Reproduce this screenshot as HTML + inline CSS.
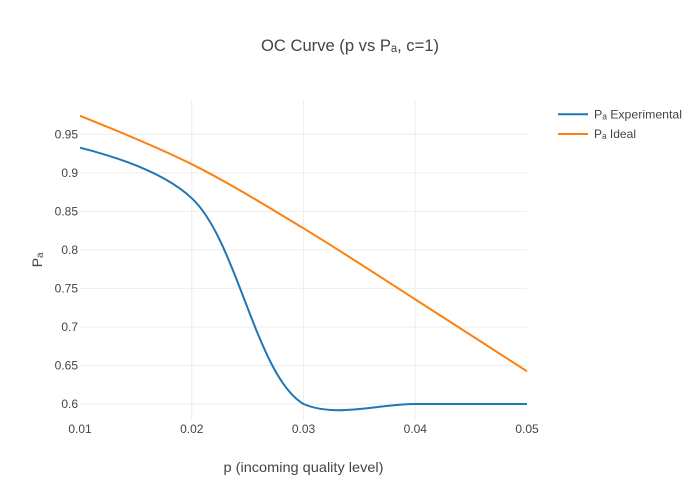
<!DOCTYPE html>
<html>
<head>
<meta charset="utf-8">
<style>
  html,body{margin:0;padding:0;background:#fff;}
  svg{display:block;}
  text{font-family:"Liberation Sans","DejaVu Sans",sans-serif;fill:#444;}
</style>
</head>
<body>
<svg width="700" height="500" viewBox="0 0 700 500" xmlns="http://www.w3.org/2000/svg">
  <rect x="0" y="0" width="700" height="500" fill="#fff"/>
  <g stroke="#eeeeee" stroke-width="1">
    <line x1="191.75" y1="100" x2="191.75" y2="420"/>
    <line x1="303.5" y1="100" x2="303.5" y2="420"/>
    <line x1="415.25" y1="100" x2="415.25" y2="420"/>
    <line x1="80" y1="404" x2="527" y2="404"/>
    <line x1="80" y1="365.47" x2="527" y2="365.47"/>
    <line x1="80" y1="326.94" x2="527" y2="326.94"/>
    <line x1="80" y1="288.41" x2="527" y2="288.41"/>
    <line x1="80" y1="249.88" x2="527" y2="249.88"/>
    <line x1="80" y1="211.35" x2="527" y2="211.35"/>
    <line x1="80" y1="172.82" x2="527" y2="172.82"/>
    <line x1="80" y1="134.29" x2="527" y2="134.29"/>
  </g>
  <g font-size="12" text-anchor="end">
    <text x="78" y="408.2">0.6</text>
    <text x="78" y="369.7">0.65</text>
    <text x="78" y="331.1">0.7</text>
    <text x="78" y="292.6">0.75</text>
    <text x="78" y="254.1">0.8</text>
    <text x="78" y="215.5">0.85</text>
    <text x="78" y="177">0.9</text>
    <text x="78" y="138.5">0.95</text>
  </g>
  <g font-size="12" text-anchor="middle">
    <text x="80" y="433">0.01</text>
    <text x="191.75" y="433">0.02</text>
    <text x="303.5" y="433">0.03</text>
    <text x="415.25" y="433">0.04</text>
    <text x="527" y="433">0.05</text>
  </g>
  <path d="M80,115.8 Q155.01,145.78 191.75,164.2 C229.54,183.15 266.51,205.94 303.5,228.3 C341.02,250.98 378.03,275.58 415.25,299.4 Q452.53,323.25 527,371.3" fill="none" stroke="#ff7f0e" stroke-width="2"/>
  <path d="M80,147.7 Q158.82,167.59 191.75,198.2 C237.25,240.49 256.38,375.97 303.5,404 C336.04,418 378,404 415.25,404 Q452.5,404 527,404" fill="none" stroke="#1f77b4" stroke-width="2"/>
  <text x="350" y="51" font-size="17" text-anchor="middle" textLength="178" lengthAdjust="spacingAndGlyphs">OC Curve (p vs Pₐ, c=1)</text>
  <text x="303.5" y="472" font-size="14" text-anchor="middle" textLength="160" lengthAdjust="spacingAndGlyphs">p (incoming quality level)</text>
  <text x="0" y="0" font-size="14" text-anchor="middle" transform="translate(42,260) rotate(-90)">Pₐ</text>
  <line x1="558" y1="114.3" x2="588" y2="114.3" stroke="#1f77b4" stroke-width="2"/>
  <text x="594" y="118.5" font-size="12" textLength="88" lengthAdjust="spacingAndGlyphs">Pₐ Experimental</text>
  <line x1="558" y1="134" x2="588" y2="134" stroke="#ff7f0e" stroke-width="2"/>
  <text x="594" y="138.2" font-size="12" textLength="42" lengthAdjust="spacingAndGlyphs">Pₐ Ideal</text>
</svg>
</body>
</html>
